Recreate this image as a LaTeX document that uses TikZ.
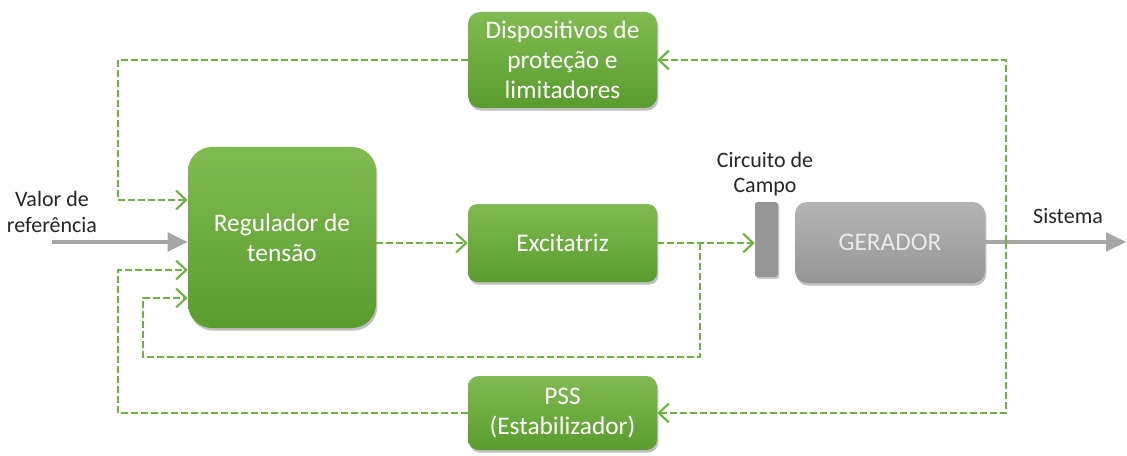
\documentclass[tikz,border=0pt]{standalone}
\usepackage{fontspec}
\setmainfont{Carlito}
\usetikzlibrary{arrows.meta,shadows,calc}
\definecolor{gtop}{HTML}{80BB52}
\definecolor{gbot}{HTML}{5A9C2E}
\definecolor{dashg}{HTML}{6DB33F}
\definecolor{greytop}{HTML}{B4B4B4}
\definecolor{greybot}{HTML}{969696}
\definecolor{arrgrey}{HTML}{A6A6A6}
\definecolor{lbl}{HTML}{262626}
\begin{document}
\begin{tikzpicture}[x=0.75pt,y=-0.75pt,
  gbox/.style={rectangle, top color=gtop, bottom color=gbot, draw=none,
    text=white, align=center, font=\fontsize{19}{22.5}\selectfont,
    drop shadow={shadow xshift=1pt, shadow yshift=-2pt, fill=black, opacity=0.25}},
  greybox/.style={rectangle, top color=greytop, bottom color=greybot, draw=none,
    text=white!92!black, align=center, font=\fontsize{19}{22.5}\selectfont,
    drop shadow={shadow xshift=1pt, shadow yshift=-2pt, fill=black, opacity=0.25}},
  fb/.style={draw=dashg, line width=1.6pt, dash pattern=on 5pt off 2.5pt,
    -{Straight Barb[length=7.5pt,width=14pt,line width=1.6pt]}},
  garrow/.style={draw=arrgrey, line width=2.4pt,
    -{Triangle[length=15pt,width=14pt]}},
  lab/.style={text=lbl, align=center, font=\fontsize{16.5}{19}\selectfont}
]
\useasboundingbox (0,0) rectangle (1127,456);
\fill[white] (0,0) rectangle (1127,456);

% boxes
\node[gbox, rounded corners=9pt, minimum width=141.75pt, minimum height=72pt]
  (disp) at (562.5,60) {Dispositivos de\\proteção e\\limitadores};
\node[gbox, rounded corners=18pt, minimum width=141pt, minimum height=135.75pt]
  (reg) at (282,237.5) {Regulador de\\tensão};
\node[gbox, rounded corners=7pt, minimum width=141.75pt, minimum height=58.5pt]
  (exc) at (562.5,243) {Excitatriz};
\node[gbox, rounded corners=8pt, minimum width=141.75pt, minimum height=55.5pt]
  (pss) at (562.5,413) {PSS\\(Estabilizador)};
\node[rectangle, fill=greybot, rounded corners=2pt, minimum width=17.25pt,
  minimum height=56.25pt, inner sep=0pt,
  drop shadow={shadow xshift=1pt, shadow yshift=-1.5pt, fill=black, opacity=0.2}]
  (circ) at (766.5,239.5) {};
\node[greybox, rounded corners=9pt, minimum width=142.5pt, minimum height=60.75pt]
  (ger) at (890,242.5) {GERADOR};

% labels
\node[lab] (lval) at (52,212) {Valor de\\referência};
\node[lab] (lcirc) at (765,174) {Circuito de\\Campo};
\node[lab] (lsis) at (1068,216) {Sistema};

% coordinates
\coordinate (val) at (52,242);
\coordinate (sis) at (1126,242);
\coordinate (a1) at (118,200);
\coordinate (a2) at (118,270);
\coordinate (bb) at (700,243);
\coordinate (b2) at (143,357);
\coordinate (b3) at (143,298);
\coordinate (jj) at (1006,242);

% grey arrows
\draw[garrow] (val) -- (reg.west |- val);
\draw[garrow] (ger.east |- sis) -- (sis);

% dashed feedback
\draw[fb] (disp.west) -| (a1) -- (reg.west |- a1);
\draw[fb] (pss.west) -| (a2) -- (reg.west |- a2);
\draw[fb] (reg.east |- exc.west) -- (exc.west);
\draw[fb] (exc.east) -- (circ.west |- exc.east);
\draw[fb] (bb) |- (b2) -- (b3) -- (reg.west |- b3);
\draw[fb] (jj) |- (disp.east);
\draw[fb] (jj) |- (pss.east);
\end{tikzpicture}
\end{document}
